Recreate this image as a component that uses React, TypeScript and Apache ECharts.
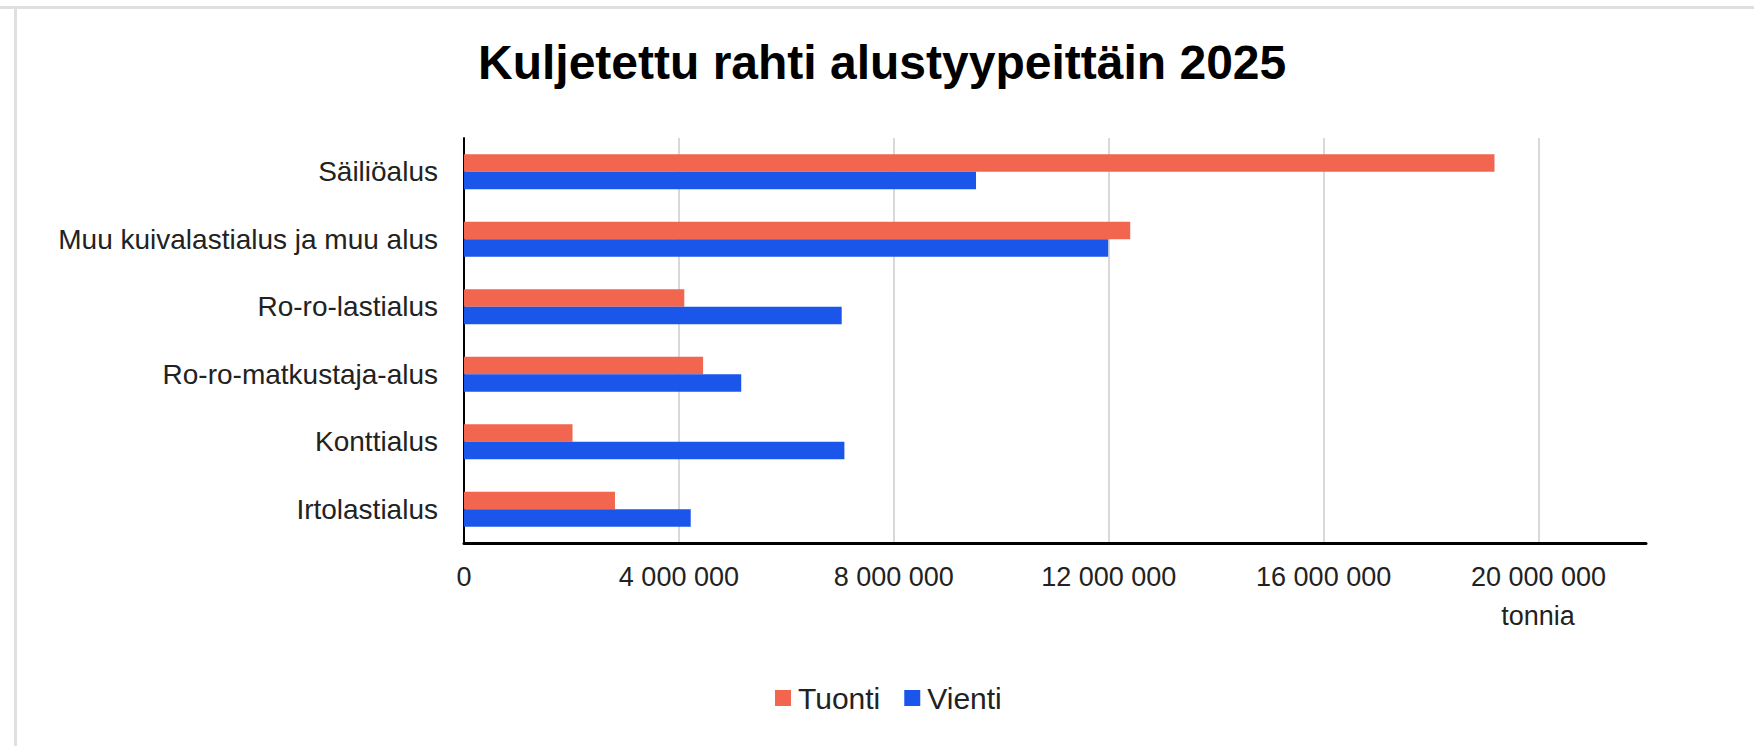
import React, { useEffect, useRef } from "react";
import * as echarts from "echarts";

const categories = [
  "Irtolastialus",
  "Konttialus",
  "Ro-ro-matkustaja-alus",
  "Ro-ro-lastialus",
  "Muu kuivalastialus ja muu alus",
  "Säiliöalus",
];
const tuonti = [2810000, 2020000, 4450000, 4100000, 12400000, 19180000];
const vienti = [4220000, 7080000, 5160000, 7030000, 11990000, 9530000];
const seriesNames = ["Tuonti", "Vienti"];
const axisMax = 22000000;
const axisInterval = 4000000;
const titleText = "Kuljetettu rahti alustyypeittäin 2025";
const unitText = "tonnia";

const FONT = "'Liberation Sans', Arial, sans-serif";

function fmt(v: number): string {
  return String(Math.round(v)).replace(/\B(?=(\d{3})+(?!\d))/g, " ");
}

export default function App() {
  const ref = useRef<HTMLDivElement>(null);
  useEffect(() => {
    if (!ref.current) return;
    const chart = echarts.init(ref.current, undefined, { renderer: "svg" });
    chart.setOption({
      animation: false,
      backgroundColor: "#ffffff",
      textStyle: { fontFamily: FONT },
      title: {
        text: titleText,
        left: 478,
        top: 38,
        padding: 0,
        textStyle: { fontFamily: FONT, fontSize: 48, fontWeight: "bold", color: "#000000" },
      },
      legend: {
        data: seriesNames,
        left: 775,
        top: 683,
        padding: 0,
        itemWidth: 16,
        itemHeight: 16,
        itemGap: 24,
        icon: "rect",
        textStyle: { fontFamily: FONT, fontSize: 30, color: "#222222", padding: [0, 0, 0, 2] },
      },
      grid: { left: 464, right: 108, top: 138, bottom: 203, containLabel: false },
      xAxis: {
        type: "value",
        min: 0,
        max: axisMax,
        interval: axisInterval,
        axisLine: { show: true, lineStyle: { color: "#000000", width: 3 } },
        axisTick: { show: false },
        axisLabel: {
          show: true,
          showMaxLabel: false,
          margin: 20,
          fontFamily: FONT,
          fontSize: 27,
          color: "#222222",
          formatter: (v: number) => fmt(v),
        },
        splitLine: {
          show: true,
          lineStyle: {
            width: 2,
            color: ["#d9d9d9", "#d9d9d9", "#d9d9d9", "#d9d9d9", "#d9d9d9", "#d9d9d9", "rgba(0,0,0,0)"],
          },
        },
      },
      yAxis: {
        type: "category",
        data: categories,
        axisLine: { show: true, lineStyle: { color: "#000000", width: 2 } },
        axisTick: { show: false },
        axisLabel: { margin: 26, fontFamily: FONT, fontSize: 28, color: "#222222" },
        splitLine: { show: false },
      },
      series: [
        {
          name: seriesNames[0],
          type: "bar",
          data: tuonti,
          itemStyle: { color: "#f2664f" },
          barGap: "0%",
          barCategoryGap: "48%",
        },
        {
          name: seriesNames[1],
          type: "bar",
          data: vienti,
          itemStyle: { color: "#1b56eb" },
          barGap: "0%",
          barCategoryGap: "48%",
        },
      ],
      graphic: [
        { type: "rect", shape: { x: 0, y: 6, width: 1754, height: 3 }, style: { fill: "#e0e0e0" }, silent: true },
        { type: "rect", shape: { x: 14, y: 6, width: 3, height: 740 }, style: { fill: "#e0e0e0" }, silent: true },
        {
          type: "text",
          x: 1538,
          y: 616,
          style: {
            text: unitText,
            fontFamily: FONT,
            fontSize: 27,
            fill: "#222222",
            textAlign: "center",
            textVerticalAlign: "middle",
          },
        },
      ],
    });
    return () => chart.dispose();
  }, []);
  return (
    <div
      ref={ref}
      style={{ position: "fixed", left: 0, top: 0, width: 1754, height: 746 }}
    />
  );
}
